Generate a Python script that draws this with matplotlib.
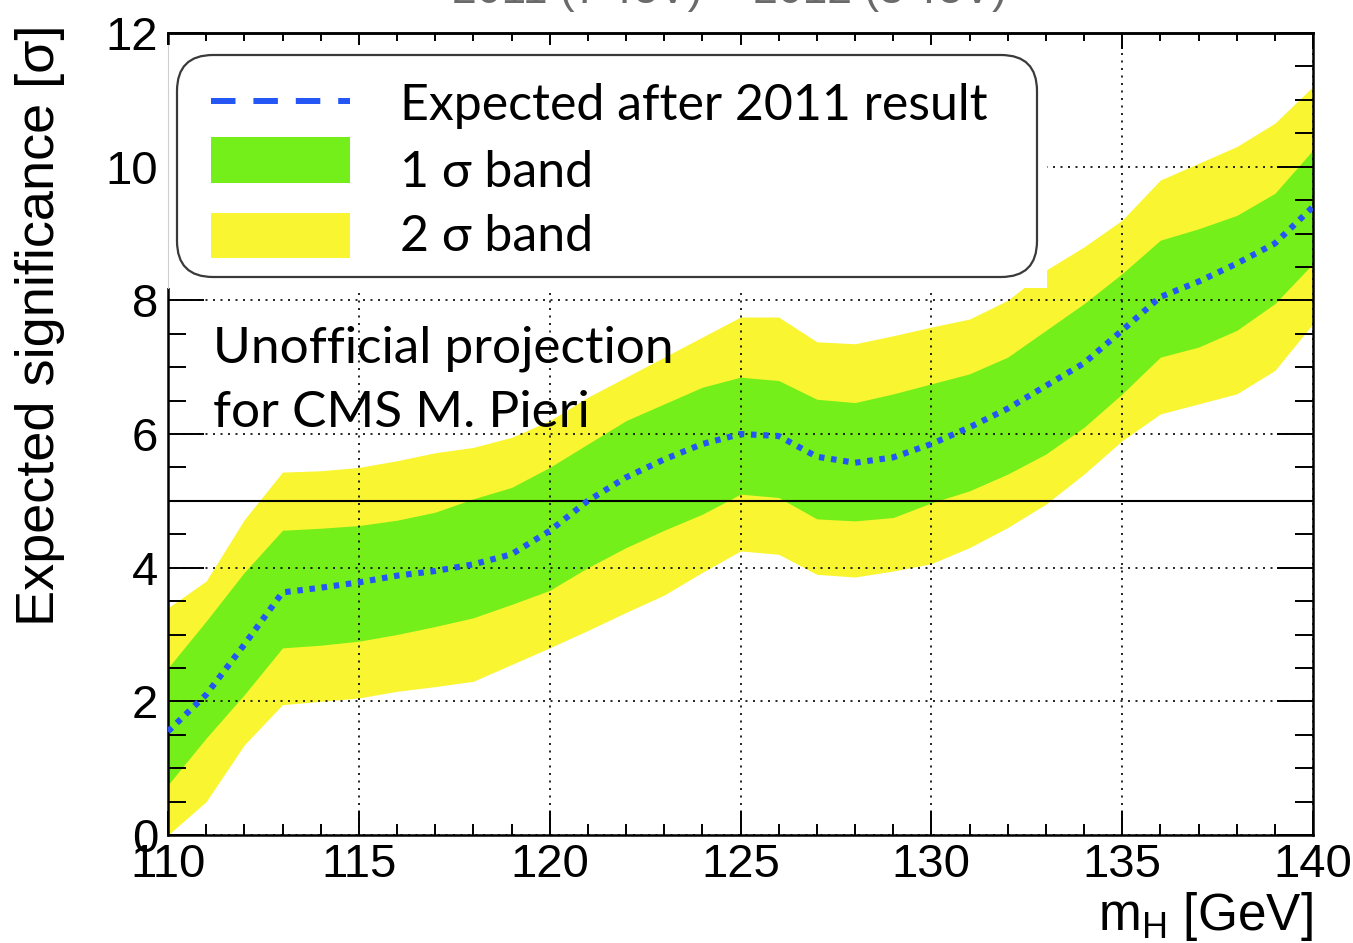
import matplotlib
matplotlib.use("Agg")
import matplotlib.pyplot as plt
from matplotlib.lines import Line2D
from matplotlib.patches import FancyBboxPatch, Rectangle
from matplotlib.ticker import MultipleLocator, NullFormatter
from matplotlib.transforms import IdentityTransform

# Higgs mass hypotheses [GeV]
mass = [110, 111, 112, 113, 114, 115, 116, 117, 118, 119, 120,
        121, 122, 123, 124, 125, 126, 127, 128, 129, 130,
        131, 132, 133, 134, 135, 136, 137, 138, 139, 140]

# median expected significance [sigma]
median = [1.55, 2.10, 2.85, 3.63, 3.70, 3.78, 3.88, 3.95, 4.05, 4.20, 4.55,
          5.00, 5.35, 5.62, 5.85, 6.00, 5.97, 5.66, 5.57, 5.65, 5.85,
          6.10, 6.38, 6.72, 7.06, 7.55, 8.05, 8.28, 8.55, 8.85, 9.40]

# +/- 1 sigma band
one_sigma_lo = [0.75, 1.45, 2.10, 2.80, 2.84, 2.90, 3.00, 3.12, 3.25, 3.45, 3.66,
                4.00, 4.30, 4.56, 4.80, 5.10, 5.05, 4.73, 4.70, 4.75, 4.97,
                5.15, 5.40, 5.70, 6.10, 6.60, 7.15, 7.30, 7.55, 7.95, 8.55]
one_sigma_hi = [2.50, 3.20, 3.93, 4.56, 4.59, 4.63, 4.71, 4.83, 5.03, 5.20, 5.50,
                5.85, 6.20, 6.45, 6.70, 6.85, 6.80, 6.52, 6.47, 6.60, 6.75,
                6.90, 7.15, 7.55, 7.95, 8.40, 8.90, 9.07, 9.27, 9.60, 10.25]

# +/- 2 sigma band
two_sigma_lo = [0.00, 0.50, 1.35, 1.95, 2.00, 2.05, 2.15, 2.22, 2.30, 2.55, 2.80,
                3.06, 3.33, 3.59, 3.93, 4.25, 4.20, 3.90, 3.86, 3.95, 4.06,
                4.30, 4.60, 4.95, 5.40, 5.90, 6.30, 6.45, 6.60, 6.95, 7.65]
two_sigma_hi = [3.40, 3.80, 4.72, 5.43, 5.45, 5.50, 5.60, 5.72, 5.80, 5.95, 6.20,
                6.55, 6.85, 7.15, 7.45, 7.75, 7.75, 7.38, 7.35, 7.47, 7.60,
                7.72, 8.00, 8.45, 8.80, 9.20, 9.80, 10.05, 10.30, 10.65, 11.20]

discovery_level = 5.0

legend_labels = ["Expected after 2011 result", "1 \u03c3 band", "2 \u03c3 band"]
note_lines = ["Unofficial projection", "for CMS M. Pieri"]
header = "2011 (7 TeV) + 2012 (8 TeV)"

BLUE = "#2356f5"
GREEN = "#74ef19"
YELLOW = "#f9f531"

axis_font = "Liberation Sans"
note_font = ["Lato", "DejaVu Sans"]

W, H = 1353, 943
fig = plt.figure(figsize=(W / 100, H / 100), dpi=100)
ax = fig.add_axes([168 / W, 1 - 835 / H, 1145 / W, 802 / H])

# bands, discovery threshold and the median expectation
ax.fill_between(mass, two_sigma_lo, two_sigma_hi, color=YELLOW, lw=0, zorder=1)
ax.fill_between(mass, one_sigma_lo, one_sigma_hi, color=GREEN, lw=0, zorder=1.1)
ax.axhline(discovery_level, color="black", lw=1.5, zorder=2.6)
ax.plot(mass, median, color=BLUE, lw=4.4, linestyle=(0, (0.9, 1.1)), zorder=3)

ax.set_xlim(110, 140)
ax.set_ylim(0, 12)

# ROOT-like frame: inward ticks, dotted grid on major ticks
ax.set_axisbelow(False)
ax.grid(True, which="major", color="black", lw=1.2, linestyle=(0, (1.2, 3.3)))
ax.xaxis.set_major_locator(MultipleLocator(5))
ax.xaxis.set_minor_locator(MultipleLocator(1))
ax.yaxis.set_major_locator(MultipleLocator(2))
ax.yaxis.set_minor_locator(MultipleLocator(0.5))
ax.tick_params(axis="x", which="both", direction="in", top=False, width=1.4, pad=6)
ax.tick_params(axis="x", which="major", length=17)
ax.tick_params(axis="x", which="minor", length=8)
ax.tick_params(axis="y", which="both", direction="in", left=True, right=True, width=1.4, pad=7)
ax.tick_params(axis="y", which="major", length=26)
ax.tick_params(axis="y", which="minor", length=13)
for spine in ax.spines.values():
    spine.set_linewidth(1.8)

top = ax.secondary_xaxis("top")
top.xaxis.set_major_locator(MultipleLocator(5))
top.xaxis.set_minor_locator(MultipleLocator(1))
top.xaxis.set_major_formatter(NullFormatter())
top.tick_params(which="both", direction="in", width=1.4)
top.tick_params(which="major", length=11.5)
top.tick_params(which="minor", length=6)
top.spines["top"].set_linewidth(1.8)

for lab in ax.get_xticklabels() + ax.get_yticklabels():
    lab.set_fontfamily(axis_font)
    lab.set_fontsize(34)

# white panel behind the legend, hiding the frame and grid underneath
ax.add_patch(Rectangle((109.9, 8.19), 133.03 - 109.9, 11.82 - 8.19,
                       facecolor="white", edgecolor="none", zorder=4, clip_on=False))
ax.plot([110, 110], [8.19, 11.82], color="#cfcfcf", lw=0.8, zorder=4.1, clip_on=False)

# legend box, laid out in output pixels (origin at the bottom-left corner)
px = IdentityTransform()
fig.add_artist(FancyBboxPatch((177, H - 277), 1037 - 177, 277 - 55,
                              boxstyle="round,pad=0,rounding_size=36",
                              transform=px, facecolor="white",
                              edgecolor="#3a3a3a", lw=1.6, zorder=5))
fig.add_artist(Line2D([211, 350], [H - 101, H - 101], transform=px, color=BLUE,
                      lw=4.3, dashes=(4.1, 3.0), zorder=6))
fig.add_artist(Rectangle((211, H - 183), 139, 46, transform=px,
                         facecolor=GREEN, edgecolor="none", zorder=6))
fig.add_artist(Rectangle((211, H - 258), 139, 45, transform=px,
                         facecolor=YELLOW, edgecolor="none", zorder=6))
for label, base in zip(legend_labels, [120, 187, 251]):
    fig.text(400 / W, 1 - base / H, label, family=note_font, fontsize=36,
             ha="left", va="baseline", zorder=6)

ax.text(111.18, 7.07, note_lines[0], family=note_font, fontsize=37,
        va="baseline", ha="left", zorder=6)
ax.text(111.18, 6.11, note_lines[1], family=note_font, fontsize=37,
        va="baseline", ha="left", zorder=6)

# axis titles
fig.text(40 / W, 1 - 25 / H, "Expected significance [\u03c3]", rotation=90,
         ha="center", va="top", family=axis_font, fontsize=39)
fig.text(1313 / W, 1 - 930 / H, r"m$_{\mathregular{H}}$ [GeV]", ha="right",
         va="baseline", family=axis_font, fontsize=37)

# page header, mostly above the frame
fig.text(729 / W, 1 - 3 / H, header, ha="center", va="baseline",
         family="Liberation Sans", fontsize=32, color="#6a6a6a")

fig.savefig("out.png", dpi=100)
